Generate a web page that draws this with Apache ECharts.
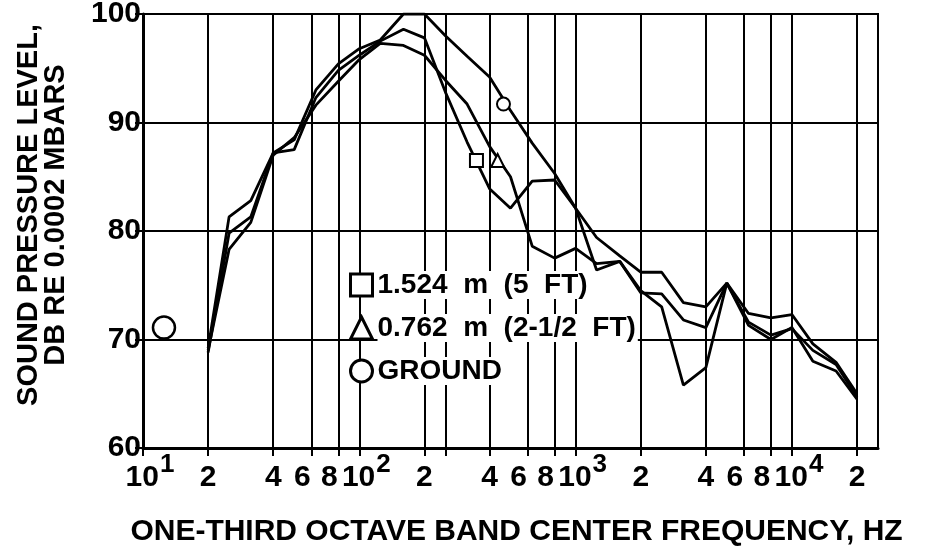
<!DOCTYPE html>
<html>
<head>
<meta charset="utf-8">
<script src="https://cdn.jsdelivr.net/npm/echarts@6/dist/echarts.min.js"></script>
<style>
  html, body { margin: 0; padding: 0; background: #fff; }
  #chart { width: 926px; height: 554px; }
</style>
</head>
<body>
<div id="chart"></div>
<script>
// one-third octave band centres, Hz (12.5 Hz only has the lone ground point)
const freqs = [12.5, 16, 20, 25, 31.5, 40, 50, 63, 80, 100, 125, 160, 200, 250, 315, 400, 500,
  630, 800, 1000, 1250, 1600, 2000, 2500, 3150, 4000, 5000, 6300, 8000, 10000, 12500, 16000, 20000];

// sound pressure level, dB re 0.0002 mbar
const ground = [71.1, null, 69.2, 81.3, 82.8, 87.2, 88.4, 93.0, 95.4, 96.8, 97.6, 100, 100, 98.0, 96.1,
  94.2, 91.1, 88.1, 85.3, 82.1, 79.4, 77.7, 76.2, 76.2, 73.4, 73.0, 75.2, 72.4, 72.0, 72.3, 69.6, 67.9, 65.0];
const mic5ft = [null, null, 68.8, 79.8, 81.3, 87.2, 87.5, 92.3, 94.8, 96.2, 97.5, 98.6, 97.8, 92.8, 88.2,
  83.9, 82.1, 84.6, 84.7, 82.1, 76.4, 77.2, 74.5, 73.0, 65.8, 67.4, 75.2, 71.3, 70.0, 71.1, 68.0, 67.1, 64.5];
const mic2ft = [null, null, 69.0, 78.3, 80.8, 87.0, 88.6, 91.6, 93.8, 95.8, 97.3, 97.1, 96.2, 93.9, 91.7,
  87.8, 85.0, 78.6, 77.5, 78.4, 77.0, 77.2, 74.3, 74.2, 71.8, 71.1, 75.2, 71.6, 70.4, 71.0, 69.0, 67.7, 64.7];

// identifying symbols drawn beside each curve
const tagFreqs = [348, 436, 464];
const tagLevels = [86.5, 86.5, 91.7];

const seriesNames = ["1.524  m  (5  FT)", "0.762  m  (2-1/2  FT)", "GROUND"];
const seriesIcons = ["rect", "triangle", "circle"];

const xTicks = [10, 20, 40, 60, 80, 100, 200, 250, 400, 600, 800, 1000, 2000, 4000, 6000, 8000, 10000, 20000];
const xTickLabels = ["10^1", "2", "4", "6", "8", "10^2", "2", "", "4", "6", "8", "10^3", "2", "4", "6", "8", "10^4", "2"];
const yTicks = [60, 70, 80, 90, 100];

const font = "Liberation Sans";

const pairs = (vals) => freqs.map((f, i) => [f, vals[i]]);

const chart = echarts.init(document.getElementById("chart"));

const groundData = pairs(ground);
groundData[0] = { value: groundData[0], symbol: "circle", symbolSize: 22 };

const makeSeries = (idx, data) => ({
  name: seriesNames[idx],
  type: "line",
  data: data,
  z: 3,
  symbol: "none",
  connectNulls: false,
  lineStyle: { color: "#000", width: 2.8 },
  itemStyle: { color: "#fff", borderColor: "#000", borderWidth: 2.5 },
  emphasis: { disabled: true },
  animation: false,
  markPoint: {
    symbol: seriesIcons[idx],
    symbolSize: 13,
    label: { show: false },
    itemStyle: { color: "#fff", borderColor: "#000", borderWidth: 2 },
    data: [{ coord: [tagFreqs[idx], tagLevels[idx]] }],
  },
});

const tickText = { fontFamily: font, fontWeight: "bold", fontSize: 30, color: "#000", verticalAlign: "bottom" };

chart.setOption({
  backgroundColor: "#fff",
  textStyle: { fontFamily: font, fontWeight: "bold", color: "#000" },
  grid: {
    left: 143,
    right: 48,
    top: 14,
    bottom: 106,
    outerBoundsMode: "none",
    show: true,
    borderColor: "#000",
    borderWidth: 2,
  },
  legend: {
    orient: "vertical",
    left: 349,
    top: 271,
    padding: 0,
    z: 2,
    itemWidth: 22,
    itemHeight: 22,
    itemGap: 15,
    selectedMode: false,
    data: seriesNames.map((n, i) => ({ name: n, icon: seriesIcons[i] })),
    itemStyle: { color: "#fff", borderColor: "#000", borderWidth: 3 },
    lineStyle: { width: 0 },
    textStyle: {
      fontFamily: font,
      fontWeight: "bold",
      fontSize: 28,
      color: "#000",
      backgroundColor: "#fff",
      padding: [0, 2, 0, 0],
    },
  },
  xAxis: {
    type: "log",
    logBase: 10,
    min: 10,
    max: 25000,
    name: "ONE-THIRD OCTAVE BAND CENTER FREQUENCY, HZ",
    nameLocation: "middle",
    nameGap: 69,
    nameTextStyle: { fontFamily: font, fontWeight: "bold", fontSize: 30, color: "#000", padding: [0, 0, 0, 12] },
    axisLine: { lineStyle: { color: "#000", width: 3 } },
    axisTick: { customValues: xTicks, length: 8, lineStyle: { color: "#000", width: 2 } },
    axisLabel: {
      customValues: xTicks.filter((v, i) => xTickLabels[i] !== ""),
      margin: 3,
      formatter: (v) => {
        const i = xTicks.findIndex((t) => Math.abs(t - v) / t < 1e-6);
        const lab = i < 0 ? "" : xTickLabels[i];
        if (lab.indexOf("^") > 0) {
          const p = lab.split("^");
          return "{p|" + p[0] + "}{s|" + p[1] + "}";
        }
        // the 6 and 8 labels sit a little left of their ticks
        if (lab === "6" || lab === "8") return "{c|" + lab + "}";
        return "{b|" + lab + "}";
      },
      rich: {
        b: Object.assign({}, tickText, { padding: [12, 0, 0, 0] }),
        c: Object.assign({}, tickText, { padding: [12, 18, 0, 0] }),
        p: Object.assign({}, tickText, { padding: [12, 0, 0, 14] }),
        s: Object.assign({}, tickText, { fontSize: 26, padding: [0, 0, 15, 1] }),
      },
    },
    splitLine: { show: true, lineStyle: { color: "#000", width: 2 } },
  },
  yAxis: {
    type: "value",
    min: yTicks[0],
    max: yTicks[yTicks.length - 1],
    interval: 10,
    name: "SOUND PRESSURE LEVEL,\nDB RE 0.0002 MBARS",
    nameLocation: "middle",
    nameRotate: 90,
    nameGap: 74,
    nameTextStyle: {
      fontFamily: font,
      fontWeight: "bold",
      fontSize: 29,
      lineHeight: 27,
      color: "#000",
      align: "center",
      padding: [0, 0, 0, 32],
    },
    axisLine: { show: true, lineStyle: { color: "#000", width: 3 } },
    axisTick: { show: true, length: 8, lineStyle: { color: "#000", width: 2 } },
    axisLabel: { fontFamily: font, fontWeight: "bold", fontSize: 30, color: "#000", margin: 2 },
    splitLine: { show: true, lineStyle: { color: "#000", width: 2 } },
  },
  series: [makeSeries(0, pairs(mic5ft)), makeSeries(1, pairs(mic2ft)), makeSeries(2, groundData)],
});
</script>
</body>
</html>
